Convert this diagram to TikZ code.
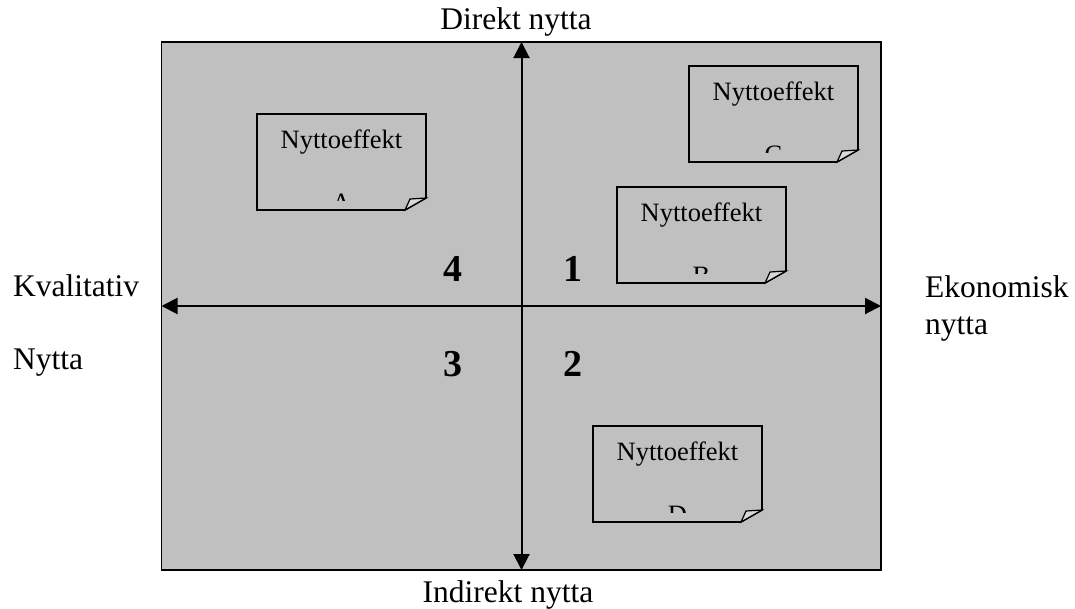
\documentclass[tikz,border=0pt]{standalone}
\usepackage{fontspec}
\setmainfont{Liberation Serif}
\usetikzlibrary{arrows.meta}
\definecolor{panelgray}{HTML}{C0C0C0}
\definecolor{foldgray}{HTML}{D8D8D8}

\begin{document}
\begin{tikzpicture}[x=1pt, y=-1pt,
  axis/.style={line width=2pt, {Triangle[length=16pt,width=16pt]}-{Triangle[length=16pt,width=16pt]}},
  lbl/.style={inner sep=0pt, font=\fontsize{31.5}{37}\selectfont},
  quad/.style={inner sep=0pt, anchor=base, font=\fontsize{38}{44}\selectfont\bfseries},
  notebox/.style={draw, line width=1.6pt, line join=miter},
  notefold/.style={draw, line width=1.2pt, fill=foldgray},
  notetext/.style={inner sep=0pt, anchor=base, font=\fontsize{26.5}{31}\selectfont}]
\useasboundingbox (0,0) rectangle (1075,608);

\draw[fill=panelgray, line width=1.5pt] (161.5,42) rectangle (881,570);

% axes
\coordinate (top) at (521.5,42);
\coordinate (bottom) at (521.5,570);
\coordinate (left) at (161.5,306);
\coordinate (right) at (881,306);
\draw[axis] (bottom) -- (top);
\draw[axis] (left) -- (right);

\node[lbl, anchor=base] (direkt) at (516,29) {Direkt nytta};
\node[lbl, anchor=base] (indirekt) at (508,602) {Indirekt nytta};
\node[lbl, anchor=base west] (kval) at (13,296) {Kvalitativ};
\node[lbl, anchor=base west] (nyttaL) at (13,369) {Nytta};
\node[lbl, anchor=base west] (ekon) at (925,297) {Ekonomisk};
\node[lbl, anchor=base west] (nyttaR) at (925,334) {nytta};

\node[quad] (q4) at (453,281) {4};
\node[quad] (q1) at (573,281) {1};
\node[quad] (q3) at (453,376) {3};
\node[quad] (q2) at (573,376) {2};

% lappar
\foreach \l/\x/\y in {A/257/114, B/617/187, C/689/66, D/593/426} {
  \draw[notebox] (\x,\y) -- ++(169,0) -- ++(0,84) -- ++(-21,12) -- ++(-148,0) -- cycle;
  \draw[notefold] (\x+148,\y+96) -- (\x+153,\y+85) -- (\x+169,\y+84) -- cycle;
  \node[notetext] (note\l) at (\x+84.5,\y+34) {Nyttoeffekt};
  \begin{scope}
    \clip (\x,\y) rectangle (\x+169,\y+86.5);
    \node[notetext] (letter\l) at (\x+84.5,\y+97) {\l};
  \end{scope}
}
\end{tikzpicture}
\end{document}
